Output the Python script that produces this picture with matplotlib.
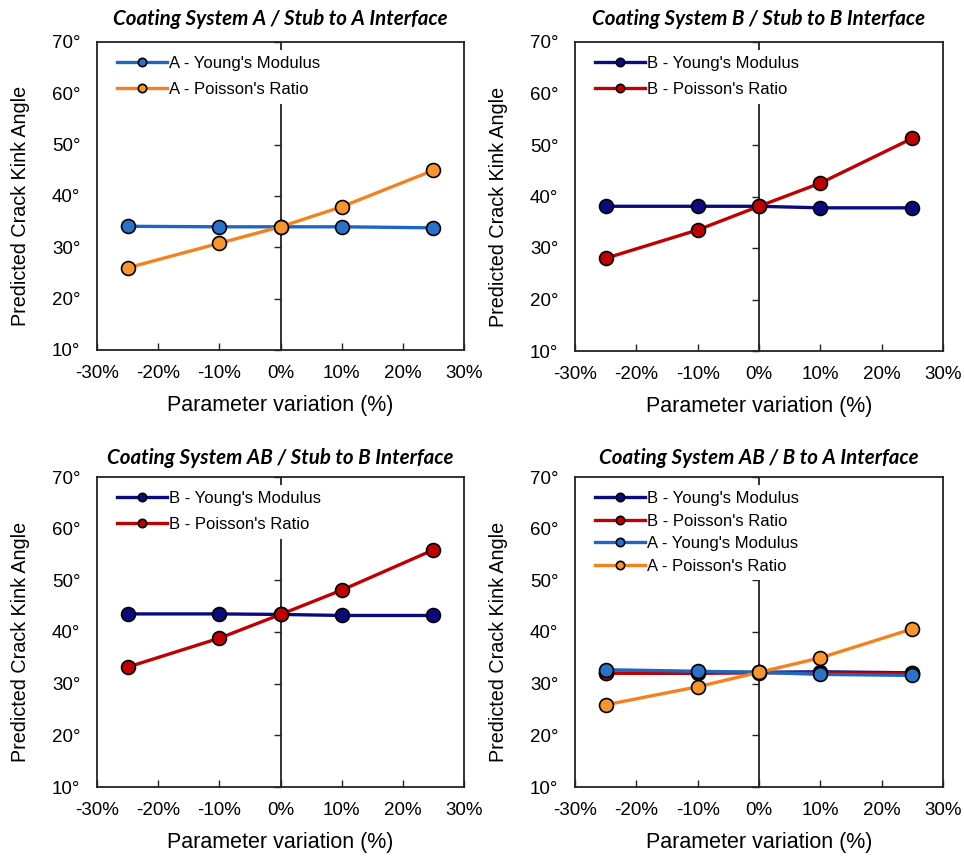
import matplotlib
matplotlib.use("Agg")
import matplotlib.pyplot as plt
from matplotlib.ticker import FuncFormatter

plt.rcParams['font.family'] = ['Liberation Sans', 'DejaVu Sans']

variation = [-25, -10, 0, 10, 25]

# Panel 1: Coating System A / Stub to A
p1_A_young = [34.1, 34.0, 34.0, 34.0, 33.8]
p1_A_poisson = [26.0, 30.8, 34.0, 37.9, 45.0]
# Panel 2: Coating System B / Stub to B
p2_B_young = [38.1, 38.1, 38.1, 37.8, 37.8]
p2_B_poisson = [28.0, 33.5, 38.1, 42.6, 51.3]
# Panel 3: Coating System AB / Stub to B
p3_B_young = [43.5, 43.5, 43.4, 43.2, 43.2]
p3_B_poisson = [33.2, 38.8, 43.4, 48.1, 55.9]
# Panel 4: Coating System AB / B to A
p4_B_young = [32.0, 32.2, 32.2, 32.3, 32.1]
p4_B_poisson = [32.0, 32.0, 32.1, 32.1, 32.0]
p4_A_young = [32.7, 32.4, 32.2, 31.8, 31.6]
p4_A_poisson = [25.9, 29.4, 32.2, 35.0, 40.6]

titles = ["Coating System A / Stub to A Interface",
          "Coating System B / Stub to B Interface",
          "Coating System AB / Stub to B Interface",
          "Coating System AB / B to A Interface"]
xticks = [-30, -20, -10, 0, 10, 20, 30]
yticks = [10, 20, 30, 40, 50, 60, 70]

styles = {
    "A_young": dict(color="#1F66C2", mfc="#2A72C8"),
    "A_poisson": dict(color="#F7801E", mfc="#F7962F"),
    "B_young": dict(color="#0B0B80", mfc="#0B0B80"),
    "B_poisson": dict(color="#C00000", mfc="#C00000"),
}

panels = [
    [("A - Young's Modulus", p1_A_young, "A_young"),
     ("A - Poisson's Ratio", p1_A_poisson, "A_poisson")],
    [("B - Young's Modulus", p2_B_young, "B_young"),
     ("B - Poisson's Ratio", p2_B_poisson, "B_poisson")],
    [("B - Young's Modulus", p3_B_young, "B_young"),
     ("B - Poisson's Ratio", p3_B_poisson, "B_poisson")],
    [("B - Young's Modulus", p4_B_young, "B_young"),
     ("B - Poisson's Ratio", p4_B_poisson, "B_poisson"),
     ("A - Young's Modulus", p4_A_young, "A_young"),
     ("A - Poisson's Ratio", p4_A_poisson, "A_poisson")],
]
label_spacing = [0.65, 0.65, 0.65, 0.45]
title_pad = [12, 12, 9, 9]

fig = plt.figure(figsize=(9.64, 8.57), dpi=100)
W, H = 964, 857
boxes = [(97, 42, 464, 350), (575, 42, 943, 351),
         (97, 477, 464, 787), (575, 477, 943, 787)]

for i, (x0, y0, x1, y1) in enumerate(boxes):
    ax = fig.add_axes([x0 / W, 1 - y1 / H, (x1 - x0) / W, (y1 - y0) / H])
    for label, vals, key in panels[i]:
        st = styles[key]
        ax.plot(variation, vals, color=st["color"], lw=2.4, marker="o",
                ms=10, mfc=st["mfc"], mec="black", mew=1.2, label=label,
                zorder=3)
    ax.set_xlim(-30, 30)
    ax.set_ylim(10, 70)
    ax.axvline(0, color="#222222", lw=1.3, zorder=2)
    ax.plot([0] * len(yticks), yticks, ls="none", marker=0, ms=5,
            color="#222222", mew=1.0, zorder=2, clip_on=False)
    ax.set_xticks(xticks)
    ax.set_yticks(yticks)
    ax.xaxis.set_major_formatter(FuncFormatter(lambda v, p: f"{int(v)}%"))
    ax.yaxis.set_major_formatter(FuncFormatter(lambda v, p: f"{int(v)}°"))
    ax.tick_params(axis="x", direction="in", length=5, width=1.0,
                   labelsize=13.5, pad=11, colors="#222222", labelcolor="black")
    ax.tick_params(axis="y", length=0, labelsize=13.5, pad=12)
    for s in ax.spines.values():
        s.set_linewidth(1.3)
        s.set_color("#222222")
    ax.set_xlabel("Parameter variation (%)", fontsize=15.5, labelpad=9)
    ax.set_ylabel("Predicted Crack Kink Angle", fontsize=14.2)
    w = x1 - x0
    h = y1 - y0
    ax.yaxis.set_label_coords(-67 / w, 0.5 - 10 / h)
    ax.set_title(titles[i], fontsize=14.8, fontweight="bold", style="italic",
                 family=["Lato", "DejaVu Sans"], pad=title_pad[i])
    leg = ax.legend(loc="upper left", bbox_to_anchor=(0.016, 1.0),
                    frameon=True, fontsize=12,
                    handlelength=3.0, borderaxespad=0.45,
                    labelspacing=label_spacing[i], handletextpad=0.1,
                    markerscale=0.6, fancybox=False, framealpha=1.0)
    leg.get_frame().set_edgecolor("none")
    leg.get_frame().set_facecolor("white")

fig.savefig("out.png", dpi=100)
